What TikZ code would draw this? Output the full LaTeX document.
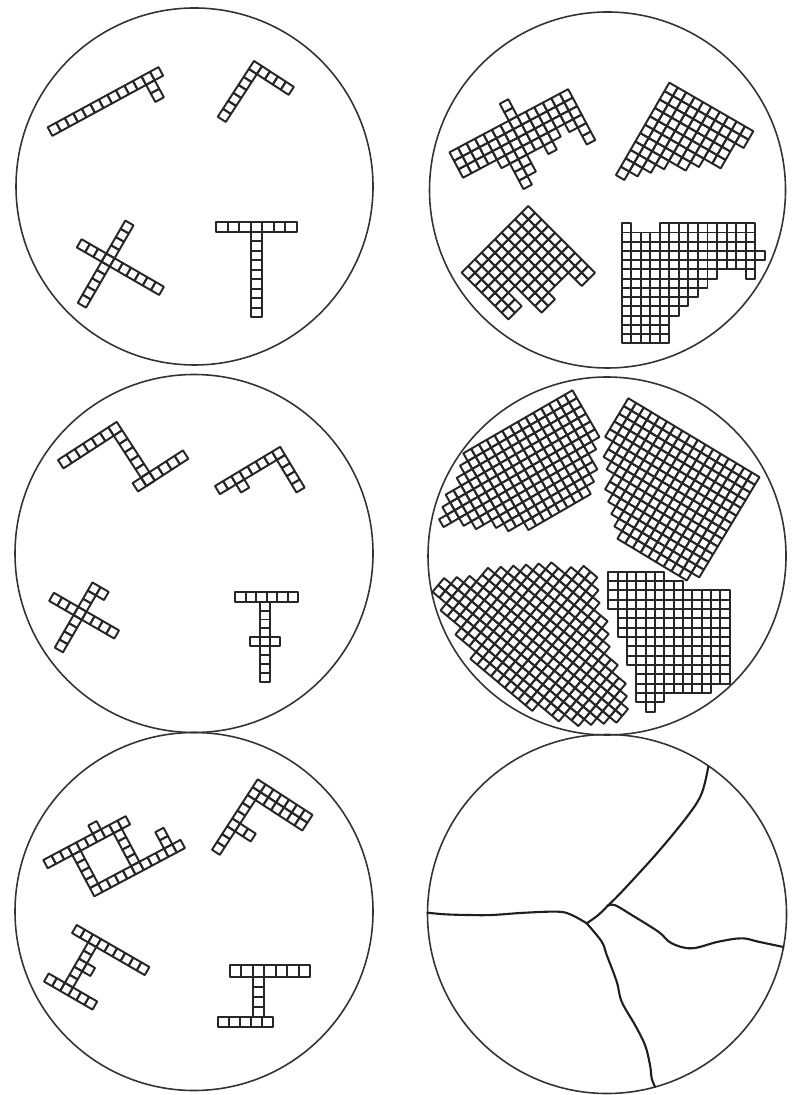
\documentclass[tikz,border=0pt]{standalone}
\newcommand\cellrow[3]{\foreach \cc in {#2,...,#3}{\draw[cell] (\cc,#1) -- (\cc+1,#1) -- (\cc+1,#1+1) -- (\cc,#1+1) -- cycle;}}
\newcommand\cellcol[3]{\foreach \rr in {#2,...,#3}{\draw[cell] (#1,\rr) -- (#1+1,\rr) -- (#1+1,\rr+1) -- (#1,\rr+1) -- cycle;}}
\tikzset{
  cell/.style={draw=black!85, line width=0.55pt, line join=round},
  ring/.style={draw=black!80, line width=0.45pt},
  bound/.style={draw=black!88, line width=0.6pt, line cap=round, line join=round}
}
\begin{document}
\begin{tikzpicture}[x=0.01cm,y=-0.01cm]
\useasboundingbox (0,0) rectangle (793,1095);
\fill[white] (0,0) rectangle (793,1095);
% ---- circles
\draw[ring] (194.5,186.5) circle[radius=178.5];
\draw[ring] (607.5,190) circle[radius=178];
\draw[ring] (194,553.5) circle[radius=179];
\draw[ring] (607,556) circle[radius=179];
\draw[ring] (194,911.5) circle[radius=179];
\draw[ring] (607,914) circle[radius=179.5];

% ================= top-left circle
\begin{scope}[shift={(47.7,127.3)},rotate=28.5,scale=9.7]
\cellrow{0}{0}{12} \cellcol{11}{1}{2}
\end{scope}
\begin{scope}[shift={(254,61)},rotate=-33,scale=9.5]
\cellrow{0}{0}{4} \cellcol{0}{1}{6}
\end{scope}
\begin{scope}[shift={(106.3,253.5)},rotate=-30,scale=9.5]
\cellrow{0}{-3}{6} \cellcol{0}{-4}{-1} \cellcol{0}{1}{5}
\end{scope}
\begin{scope}[shift={(216,222.3)},xscale=11.57,yscale=9.5]
\cellrow{0}{0}{6} \cellcol{3}{1}{9}
\end{scope}

% ================= top-right circle
\begin{scope}[shift={(449.5,152.3)},rotate=28,scale=9.6]
\cellcol{7}{-2}{-1}
\cellrow{0}{0}{13} \cellrow{1}{0}{13} \cellrow{2}{0}{13}
\cellrow{3}{4}{10} \cellrow{3}{12}{13}
\cellrow{4}{5}{6} \cellrow{4}{9}{9} \cellrow{4}{13}{13}
\cellrow{5}{5}{6} \cellrow{5}{13}{13}
\cellrow{6}{5}{5}
\end{scope}
\begin{scope}[shift={(669.3,82.7)},rotate=-30,scale=9.7]
\cellrow{0}{0}{9} \cellrow{1}{0}{9} \cellrow{2}{0}{8} \cellrow{3}{0}{8}
\cellrow{4}{0}{8} \cellrow{5}{0}{6} \cellrow{6}{0}{5} \cellrow{7}{0}{3}
\cellrow{8}{0}{2} \cellrow{9}{0}{1} \cellrow{10}{0}{0}
\end{scope}
\begin{scope}[shift={(528.3,206)},rotate=-45,scale=9.43]
\cellrow{0}{0}{9} \cellrow{1}{0}{9} \cellrow{2}{0}{7} \cellrow{3}{0}{7}
\cellrow{4}{0}{7} \cellrow{5}{0}{8} \cellrow{6}{0}{8} \cellrow{7}{0}{4}
\cellrow{8}{0}{6} \cellrow{9}{0}{6}
\end{scope}
\begin{scope}[shift={(621.7,223.3)},xscale=9.53,yscale=9.23]
\cellcol{0}{0}{12} \cellcol{1}{1}{12} \cellcol{2}{1}{12} \cellcol{3}{1}{12}
\cellcol{4}{0}{12} \cellcol{5}{0}{9} \cellcol{6}{0}{8} \cellcol{7}{0}{7}
\cellcol{8}{0}{6} \cellcol{9}{0}{5} \cellcol{10}{0}{4} \cellcol{11}{0}{4}
\cellcol{12}{0}{4} \cellcol{13}{0}{5} \cellcol{14}{3}{3}
\end{scope}

% ================= middle-left circle
\begin{scope}[shift={(58,460)},rotate=33,scale=10]
\cellrow{0}{0}{6} \cellcol{6}{1}{6} \cellrow{6}{5}{10}
\end{scope}
\begin{scope}[shift={(215,486)},rotate=31,scale=9.5]
\cellrow{0}{0}{7} \cellcol{7}{1}{4} \cellrow{1}{2}{2}
\end{scope}
\begin{scope}[shift={(78.3,606.9)},rotate=-30,scale=9.4]
\cellrow{0}{-3}{4} \cellcol{0}{-3}{-1} \cellcol{0}{1}{4} \cellrow{-3}{1}{1}
\end{scope}
\begin{scope}[shift={(235,591.7)},xscale=10.55,yscale=10]
\cellrow{0}{0}{5}
\end{scope}
\begin{scope}[shift={(260,601.7)},xscale=10,yscale=8.9]
\cellcol{0}{0}{8} \cellrow{4}{-1}{-1} \cellrow{4}{1}{1}
\end{scope}

% ================= middle-right circle
\begin{scope}[shift={(463.3,453.3)},rotate=30,scale=9]
\cellrow{0}{0}{13} \cellrow{1}{-1}{13} \cellrow{2}{-2}{13} \cellrow{3}{-4}{13}
\cellrow{4}{-5}{13} \cellrow{5}{-6}{13} \cellrow{6}{-4}{12} \cellrow{7}{-3}{11}
\cellrow{8}{-1}{11} \cellrow{9}{0}{10} \cellrow{10}{2}{9}
\end{scope}
\begin{scope}[shift={(628.3,398.3)},rotate=-31,scale=9]
\cellrow{0}{0}{16} \cellrow{1}{0}{16} \cellrow{2}{0}{16} \cellrow{3}{0}{16}
\cellrow{4}{0}{16} \cellrow{5}{1}{16} \cellrow{6}{1}{16} \cellrow{7}{2}{16}
\cellrow{8}{3}{16} \cellrow{9}{3}{16} \cellrow{10}{4}{16} \cellrow{11}{5}{16}
\cellrow{12}{6}{16} \cellrow{13}{7}{15}
\end{scope}
\begin{scope}[shift={(438.3,585)},rotate=-40,scale=9]
\cellrow{-12}{11}{12} \cellrow{-11}{10}{13} \cellrow{-10}{8}{14} \cellrow{-9}{7}{16}
\cellrow{-8}{6}{17} \cellrow{-7}{5}{18} \cellrow{-6}{4}{20} \cellrow{-5}{3}{22}
\cellrow{-4}{3}{23} \cellrow{-3}{2}{24} \cellrow{-2}{1}{24} \cellrow{-1}{0}{23}
\cellrow{0}{0}{22} \cellrow{1}{2}{21} \cellrow{2}{5}{19} \cellrow{3}{8}{16}
\end{scope}
\begin{scope}[shift={(608.3,571.7)},xscale=9.33,yscale=9.33]
\cellrow{0}{0}{5} \cellrow{1}{0}{7} \cellrow{2}{0}{12} \cellrow{3}{0}{12}
\cellrow{4}{1}{12} \cellrow{5}{1}{12} \cellrow{6}{1}{12} \cellrow{7}{2}{12}
\cellrow{8}{2}{12} \cellrow{9}{2}{12} \cellrow{10}{3}{12} \cellrow{11}{3}{12}
\cellrow{12}{3}{10} \cellrow{13}{3}{5} \cellrow{14}{4}{4}
\end{scope}

% ================= bottom-left circle
\begin{scope}[shift={(43.3,860)},rotate=28,scale=9.33]
\cellrow{0}{0}{9} \cellrow{-1}{6}{6} \cellcol{3}{1}{4} \cellcol{8}{1}{4}
\cellrow{5}{3}{13} \cellcol{12}{3}{4}
\end{scope}
\begin{scope}[shift={(257.7,779.3)},rotate=-33,scale=9.33]
\cellcol{0}{0}{8} \cellrow{0}{1}{6} \cellrow{1}{1}{6} \cellrow{5}{1}{2}
\end{scope}
\begin{scope}[shift={(76.7,925)},rotate=-30,scale=9.33]
\cellrow{0}{0}{8} \cellcol{2}{1}{5} \cellrow{6}{0}{5} \cellrow{3}{3}{3}
\end{scope}
\begin{scope}[shift={(230,965)},xscale=11.43,yscale=11.7]
\cellrow{0}{0}{6}
\end{scope}
\begin{scope}[shift={(252.9,976.7)},xscale=11.43,yscale=10]
\cellcol{0}{0}{3}
\end{scope}
\begin{scope}[shift={(218.3,1016.7)},xscale=11,yscale=10.7]
\cellrow{0}{0}{4}
\end{scope}

% ================= bottom-right circle: grain boundaries
\coordinate (J1) at (607.7,905.7);
\coordinate (J2) at (586.7,923.3);
\coordinate (T1) at (708.3,766.7);
\coordinate (R1) at (783.5,947);
\coordinate (L1) at (427.5,912.7);
\coordinate (B1) at (655,1086.7);
\draw[bound] plot[smooth,tension=0.6] coordinates {(T1) (701.7,793.3) (688.3,815) (658.3,851.7) (625,888.3) (611.7,902) (J1)};
\draw[bound] plot[smooth,tension=0.6] coordinates {(J1) (598.3,915) (J2)};
\draw[bound] plot[smooth,tension=0.6] coordinates {(J1) (615,905.2) (631.7,915) (658.3,931.7) (671.7,943.3) (691.7,948.3) (718.3,941.7) (741.7,938.3) (758.3,941.7) (R1)};
\draw[bound] plot[smooth,tension=0.6] coordinates {(J2) (571.7,915) (558.3,911.7) (525,912.7) (491.7,915) (468.3,915) (445,914.3) (L1)};
\draw[bound] plot[smooth,tension=0.6] coordinates {(J2) (601.7,941.7) (606.7,955) (616.7,981.7) (621.7,1001.7) (635,1025) (645,1045) (650,1065) (651.7,1078.3) (B1)};
\end{tikzpicture}
\end{document}
